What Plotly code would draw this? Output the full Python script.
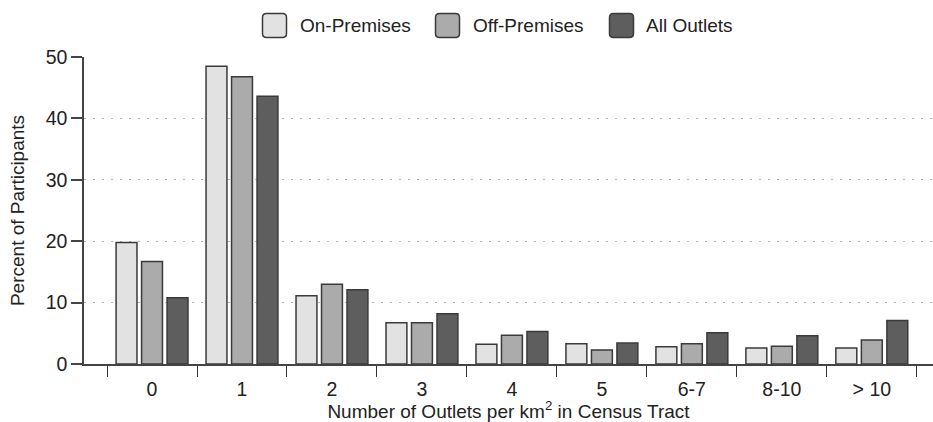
import plotly.graph_objects as go

# Outlet density categories (outlets per km² in the participant's census tract)
categories = ["0", "1", "2", "3", "4", "5", "6-7", "8-10", "> 10"]

# Percent of participants in each density category
on_premises = [19.8, 48.5, 11.1, 6.7, 3.2, 3.3, 2.8, 2.6, 2.6]
off_premises = [16.7, 46.8, 13.0, 6.7, 4.7, 2.3, 3.3, 2.9, 3.9]
all_outlets = [10.8, 43.6, 12.1, 8.2, 5.3, 3.4, 5.1, 4.6, 7.1]

series_names = ["On-Premises", "Off-Premises", "All Outlets"]
series_values = [on_premises, off_premises, all_outlets]
series_colors = ["#e2e2e2", "#ababab", "#5e5e5e"]

y_ticks = [0, 10, 20, 30, 40, 50]

FONT = "Liberation Sans, Arial, Helvetica, sans-serif"
TEXT = "#222222"
LINE = "#3a3a3a"

W, H = 933, 422
M_L, M_R, M_T, M_B = 84, 0, 57, 58

fig = go.Figure()
for name, vals, col in zip(series_names, series_values, series_colors):
    fig.add_trace(go.Bar(
        name=name, x=categories, y=vals,
        marker=dict(color=col, line=dict(color=LINE, width=1.5)),
        showlegend=False,
    ))

fig.update_layout(
    width=W, height=H,
    margin=dict(l=M_L, r=M_R, t=M_T, b=M_B),
    paper_bgcolor="white", plot_bgcolor="white",
    barmode="group", bargap=0.15, bargroupgap=0.18,
    font=dict(family=FONT, size=19.5, color=TEXT),
)

fig.update_xaxes(
    type="category", range=[-0.756, 8.68],
    tickson="boundaries", ticks="outside", ticklen=11, tickwidth=1.3,
    tickcolor="#333333", ticklabelstandoff=7,
    showline=True, linecolor="#444444", linewidth=1.5,
    showgrid=False, zeroline=False,
    title=dict(text="Number of Outlets per km<sup>2</sup> in Census Tract",
               font=dict(size=19), standoff=1),
)

fig.update_yaxes(
    range=[0, 50], tickvals=y_ticks,
    ticks="outside", ticklen=11, tickwidth=1.5, tickcolor="#444444",
    showline=True, linecolor="#444444", linewidth=1.5,
    showgrid=True, gridcolor="#b4b4b4", griddash="2px,7px", gridwidth=1.3,
    zeroline=False,
    title=dict(text="Percent of Participants", font=dict(size=19), standoff=16),
)

# Legend: rounded swatches with labels across the top
plot_w = W - M_L - M_R
plot_h = H - M_T - M_B


def px_to_paper_x(px):
    return (px - M_L) / plot_w


def px_to_paper_y(py):
    return (H - M_B - py) / plot_h


swatch_x = [274.5, 447.5, 621.5]
label_x = [298, 471, 644]
legend_y = 25.5
half, r = 12, 4
rounded = (
    f"M {-half + r},{-half} L {half - r},{-half} Q {half},{-half} {half},{-half + r} "
    f"L {half},{half - r} Q {half},{half} {half - r},{half} "
    f"L {-half + r},{half} Q {-half},{half} {-half},{half - r} "
    f"L {-half},{-half + r} Q {-half},{-half} {-half + r},{-half} Z"
)
for sx, lx, name, col in zip(swatch_x, label_x, series_names, series_colors):
    fig.add_shape(
        type="path", path=rounded,
        xref="paper", yref="paper",
        xsizemode="pixel", ysizemode="pixel",
        xanchor=px_to_paper_x(sx), yanchor=px_to_paper_y(legend_y),
        fillcolor=col, line=dict(color=LINE, width=1.5),
    )
    fig.add_annotation(
        text=name, xref="paper", yref="paper",
        x=px_to_paper_x(lx), y=px_to_paper_y(legend_y),
        xanchor="left", yanchor="middle", showarrow=False,
        font=dict(family=FONT, size=19, color=TEXT),
    )

fig.write_html("out.html")
